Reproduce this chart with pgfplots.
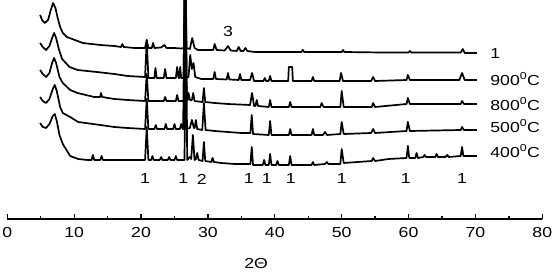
\documentclass[border=0pt]{standalone}
\usepackage{fontspec}
\setmainfont[FakeStretch=1.22]{Liberation Sans}
\usepackage{pgfplots}
\pgfplotsset{compat=1.18}
\begin{document}
\begin{tikzpicture}
\begin{axis}[
  scale only axis, width=535pt, height=219pt,
  xmin=0, xmax=80, ymin=0, ymax=219,
  axis x line=bottom, axis y line=none,
  axis line style={line width=1.3pt,-},
  xtick={0,10,...,80}, minor x tick num=1,
  xtick align=inside,
  major tick length=5pt, minor tick length=3pt,
  every tick/.style={line width=1.3pt,black},
  /pgf/number format/assume math mode=true,
  xticklabel style={font=\fontsize{14.5}{14.5}\selectfont, yshift=-5pt},
  clip mode=individual,
  cycle list={{black,mark=none}},
  every axis plot/.append style={line width=1.7pt, line join=round},
]
% Trace 1 (top, labelled 1)
\addplot coordinates {(4.9,204)(5.2,199)(5.6,196)(6.1,199)(6.5,209)(6.85,216)(7.2,211)(7.5,202)(7.9,192)(8.3,186)(8.9,182)(10.1,179)(11.3,176)(13.9,174)(16.0,173)(17.0,172)(17.2,175)(17.4,172)(19.0,171)(20.6,171)(20.85,179)(21.1,171)(21.6,171)(21.8,176)(22.0,171)(23.0,171.5)(23.5,174)(23.8,171)(25.0,171)(26.0,170.5)(26.4,171)(26.6,240)(26.8,171)(27.3,170)(27.65,181)(28.0,171)(28.5,169)(30.0,169)(30.8,169)(31.0,175)(31.3,169)(32.5,168.5)(33.0,173)(33.4,168.5)(34.3,168)(34.6,172)(34.9,168)(35.3,168)(35.6,171)(35.9,168)(37,167)(40,167)(44,167)(44.2,169)(44.4,167)(50,167)(50.2,169)(50.4,167)(56,166.5)(60,166.5)(60.2,168)(60.4,166.5)(67.8,166.5)(68.1,170)(68.4,166)(70.2,166)};
% Trace 2 (900 C)
\addplot coordinates {(4.9,176)(5.3,172)(5.8,169)(6.3,173)(6.7,181)(7.0,186)(7.3,181)(7.7,170)(8.2,160)(9.3,152)(10.5,149)(13.4,147)(16,145)(18,143)(20.6,142)(20.85,179)(21.1,141)(22.0,141)(22.15,151)(22.35,141)(23.4,141)(23.6,150)(23.8,141)(25.2,141)(25.4,152)(25.6,141)(25.7,141)(25.85,152)(26.0,141)(26.35,141)(26.55,240)(26.75,141)(27.1,142)(27.35,164)(27.6,150)(27.85,156)(28.1,142)(29.0,140)(30.8,140)(31.0,147)(31.2,140)(32.8,139.5)(33.0,146)(33.2,139.5)(34.6,139)(34.8,145)(35.0,139)(36.3,139)(36.6,146)(36.9,138)(38.3,138)(38.5,141)(38.7,138)(39.1,138)(39.3,143)(39.5,138)(42.0,138)(42.1,152)(42.6,152)(42.7,138)(45.5,138)(45.7,142)(45.9,138)(49.7,138)(49.9,146)(50.2,138)(54.4,138)(54.7,142)(55.0,138)(59.7,139)(59.9,144)(60.2,139)(67.6,139)(68.0,146)(68.4,139)(70.2,139)};
% Trace 3 (800 C)
\addplot coordinates {(4.9,149)(5.3,145)(5.8,142)(6.3,146)(6.7,156)(7.0,161)(7.3,156)(7.8,142)(8.3,136)(9.4,129)(10.5,126)(13.0,122)(13.9,122)(14.0,126)(14.2,122)(16,120)(18,119)(20.6,118)(20.85,145)(21.1,118)(23.4,118)(23.6,122)(23.8,118)(25.2,118)(25.4,124)(25.6,118)(26.45,118)(26.65,240)(26.85,118)(27.0,120)(27.1,126)(27.3,119)(27.6,119)(27.8,126)(28.0,118)(29.2,117)(29.4,131)(29.6,117)(31,116)(33,115)(36.3,114)(36.6,126)(36.9,113)(37.1,113)(37.3,119)(37.5,113)(39.1,112)(39.3,119)(39.5,112)(42.1,112)(42.3,117)(42.5,112)(46.8,112)(47.0,116)(47.3,112)(49.8,112)(50.0,128)(50.3,112)(54.5,112)(54.7,116)(55.0,112)(59.7,115)(59.9,121)(60.2,115)(67.8,115)(68.0,118)(68.3,115)(70.2,115)};
% Trace 4 (500 C)
\addplot coordinates {(4.9,122)(5.3,118)(5.8,116)(6.3,120)(6.8,130)(7.1,134)(7.4,128)(7.9,112)(8.3,106)(9.4,102)(10.6,97)(13.9,94)(16,92)(18,91)(20.6,90)(20.85,120)(21.1,90)(22.0,90)(22.2,94)(22.4,90)(23.5,90)(23.7,95)(23.9,90)(24.8,90)(25.0,95)(25.2,90)(25.8,90)(26.0,95)(26.2,90)(26.3,90)(26.5,240)(26.7,90)(27.3,91)(27.6,99)(27.9,91)(28.0,91)(28.2,99)(28.4,90)(29.15,89)(29.4,116)(29.65,89)(31,88)(33,87)(35,86)(36.35,86)(36.55,104)(36.75,85)(39.1,84)(39.3,98)(39.5,84)(42.1,84)(42.3,90)(42.5,84)(45.5,84)(45.7,90)(45.9,84)(47.2,84)(47.5,87)(47.8,84)(49.8,85)(50.0,97)(50.3,85)(54.4,86)(54.7,90)(55.0,86)(59.7,88)(59.9,97)(60.2,88)(67.8,89)(68.0,92)(68.3,89)(70.2,89)};
% Trace 5 (400 C)
\addplot coordinates {(4.9,96)(5.3,92)(5.8,91)(6.3,95)(6.8,103)(7.1,105)(7.4,98)(7.8,84)(8.3,75)(9.4,63)(10.6,60)(12.0,59)(12.6,59)(12.8,64)(13.0,59)(13.9,59)(14.1,63)(14.3,59)(16,59)(18,59)(20.6,59)(20.85,92)(21.1,59)(21.5,59)(21.7,63)(21.9,59)(22.8,59)(23.0,62)(23.2,59)(24.0,59)(24.2,62)(24.4,59)(25.0,59)(25.2,63)(25.4,59)(26.5,59)(26.7,240)(26.9,59)(27.3,62)(27.5,60)(27.75,84)(28.0,59)(28.2,60)(28.4,66)(28.6,59)(29.2,58)(29.4,77)(29.6,58)(30.5,57)(30.7,61)(30.9,57)(32,56)(34,55)(35.5,55)(36.35,55)(36.55,72)(36.75,54)(38.2,54)(38.4,59)(38.6,54)(39.1,54)(39.3,65)(39.5,54)(40.2,54)(40.4,58)(40.6,54)(42.1,54)(42.3,63)(42.5,54)(45.5,54)(45.7,57)(45.9,54)(47.5,55)(47.8,57)(48,55)(49.8,55)(50.0,70)(50.3,56)(54.5,58)(54.7,61)(55,58)(57,60)(59.7,61)(59.9,73)(60.1,61)(61.0,61)(61.2,66)(61.4,61)(62.2,62)(62.4,64)(62.6,62)(64.0,62)(64.2,65)(64.4,62)(65.5,62)(65.8,64)(66,62)(67.8,63)(68.0,72)(68.2,63)(70.2,63)};
% series labels
\begin{scope}[every node/.style={font=\fontsize{14.5}{14.5}\selectfont, anchor=west, inner sep=0pt}]
\node at (axis cs:72.2,165) {1};
\node at (axis cs:72.2,140) {900\textsuperscript{0}C};
\node at (axis cs:72.2,115) {800\textsuperscript{0}C};
\node at (axis cs:72.2,93) {500\textsuperscript{0}C};
\node at (axis cs:72.2,68) {400\textsuperscript{0}C};
\end{scope}
% peak labels
\begin{scope}[every node/.style={font=\fontsize{14.5}{14.5}\selectfont, inner sep=0pt}]
\node at (axis cs:20.6,40) {1};
\node at (axis cs:26.3,40) {1};
\node at (axis cs:29.1,40) {2};
\node at (axis cs:36.1,40) {1};
\node at (axis cs:38.8,40) {1};
\node at (axis cs:42.4,40) {1};
\node at (axis cs:50.0,40) {1};
\node at (axis cs:59.6,40) {1};
\node at (axis cs:68.0,40) {1};
\node at (axis cs:33.0,187) {3};
\node at (axis cs:37.2,-45) {2Θ};
\end{scope}
\end{axis}
\pgfresetboundingbox
\path[use as bounding box] (-7.3pt,-54pt) rectangle (546.7pt,219pt);
\end{tikzpicture}
\end{document}
